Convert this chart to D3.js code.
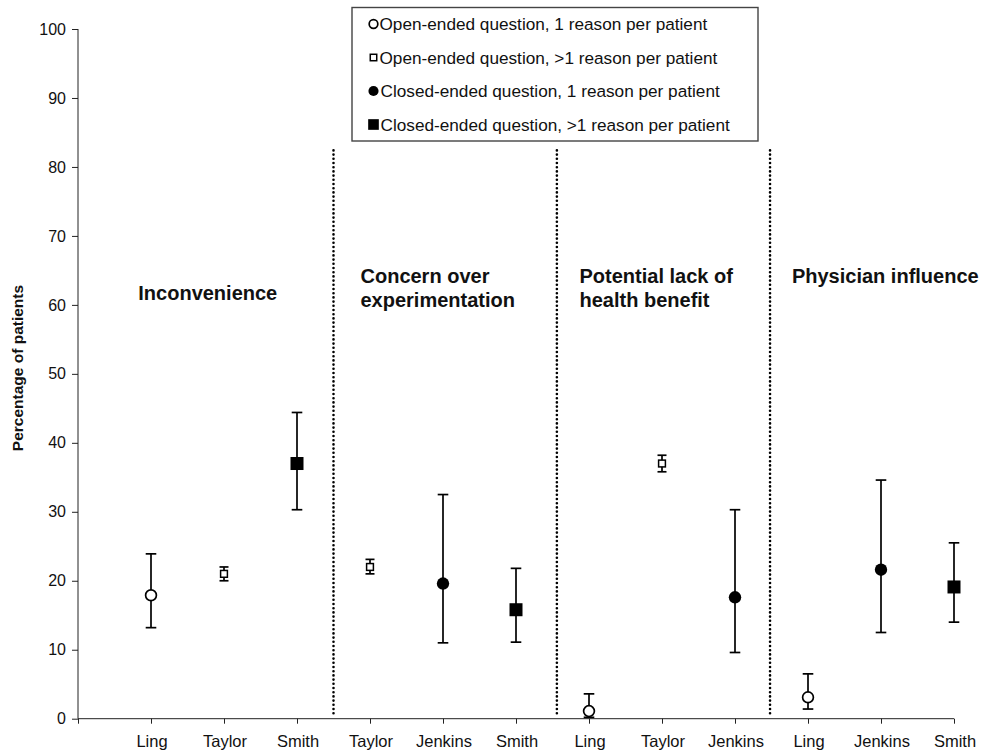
<!DOCTYPE html>
<html>
<head>
<meta charset="utf-8">
<script src="https://cdn.jsdelivr.net/npm/d3@7"></script>
<style>
  html, body { margin: 0; padding: 0; background: #fff; }
  svg { display: block; font-family: "Liberation Sans", Arial, sans-serif; }
</style>
</head>
<body>
<svg id="chart" width="984" height="756"></svg>
<script>
// ---- data ----
const categories = ["Ling","Taylor","Smith","Taylor","Jenkins","Smith","Ling","Taylor","Jenkins","Ling","Jenkins","Smith"];
const values = [17.9, 21.0, 37.0, 22.0, 19.6, 15.8, 1.1, 37.0, 17.6, 3.1, 21.6, 19.1];
const lowerCI = [13.2, 20.0, 30.3, 21.0, 11.0, 11.1, 0.2, 35.8, 9.6, 1.4, 12.5, 14.0];
const upperCI = [23.9, 22.0, 44.4, 23.1, 32.5, 21.8, 3.6, 38.2, 30.3, 6.5, 34.6, 25.5];
const markerTypes = ["openCircle","openSquare","filledSquare","openSquare","filledCircle","filledSquare","openCircle","openSquare","filledCircle","openCircle","filledCircle","filledSquare"];
const groupTitles = [["Inconvenience"], ["Concern over","experimentation"], ["Potential lack of","health benefit"], ["Physician influence"]];
const dividers = [3.5, 6.56, 9.48];
const yTicks = [0,10,20,30,40,50,60,70,80,90,100];
const legendLabels = [
  "Open-ended question, 1 reason per patient",
  "Open-ended question, >1 reason per patient",
  "Closed-ended question, 1 reason per patient",
  "Closed-ended question, >1 reason per patient"
];
const legendTypes = ["openCircle","openSquare","filledCircle","filledSquare"];

// ---- layout ----
const titlePos = [ {x:0.826, y:60.7}, {x:3.87, y:63.2}, {x:6.87, y:63.2}, {x:9.78, y:63.2} ];
const dividerTop = 82.4;

const svg = d3.select("#chart");
const x = d3.scaleLinear().domain([0, 12]).range([78, 954]);
const y = d3.scaleLinear().domain([0, 100]).range([718.7, 29]);

// y axis
const yAxis = svg.append("g").attr("transform", "translate(78,0)")
  .call(d3.axisLeft(y).tickValues(yTicks).tickSize(6).tickPadding(6).tickFormat(d3.format("d")));
yAxis.select(".domain").attr("stroke", "#222").attr("d", `M0,${y(100)}V${y(0)}`);
yAxis.selectAll(".tick line").attr("stroke", "#222");
yAxis.selectAll(".tick text").attr("font-size", 16).attr("fill", "#111")
  .attr("font-family", "Liberation Sans, Arial, sans-serif");

// x axis
const xAxis = svg.append("g").attr("transform", `translate(0,${y(0)})`)
  .call(d3.axisBottom(x).tickValues(d3.range(0, 13)).tickSize(5).tickFormat(""));
xAxis.select(".domain").attr("stroke", "#222").attr("d", `M${x(0)},0H${x(12)}`);
xAxis.selectAll(".tick line").attr("stroke", "#222");

// category labels
svg.append("g").selectAll("text").data(categories).join("text")
  .attr("x", (d, i) => x(i + 1) + 1)
  .attr("y", 747)
  .attr("text-anchor", "middle")
  .attr("font-size", 16.5)
  .attr("fill", "#111")
  .text(d => d);

// y title
svg.append("text")
  .attr("transform", `translate(23,368) rotate(-90)`)
  .attr("text-anchor", "middle")
  .attr("font-size", 15.5)
  .attr("font-weight", "bold")
  .attr("fill", "#111")
  .text("Percentage of patients");

// dividers (round dots)
svg.append("g").selectAll("line").data(dividers).join("line")
  .attr("x1", d => x(d)).attr("x2", d => x(d))
  .attr("y1", y(dividerTop)).attr("y2", y(0) - 3)
  .attr("stroke", "#000").attr("stroke-width", 2.6)
  .attr("stroke-linecap", "round")
  .attr("stroke-dasharray", "0,4.2");

// group titles
const tg = svg.append("g");
groupTitles.forEach((lines, gi) => {
  const t = tg.append("text")
    .attr("x", x(titlePos[gi].x))
    .attr("y", y(titlePos[gi].y))
    .attr("font-size", 20)
    .attr("font-weight", "bold")
    .attr("fill", "#111");
  lines.forEach((ln, li) => {
    t.append("tspan").attr("x", x(titlePos[gi].x)).attr("dy", li === 0 ? 0 : 23.7).text(ln);
  });
});

// marker drawing
function drawMarker(g, type, cx, cy, scale) {
  const s = scale || 1;
  if (type === "openCircle") {
    g.append("circle").attr("cx", cx).attr("cy", cy).attr("r", 5.4 * s)
      .attr("fill", "#fff").attr("stroke", "#000").attr("stroke-width", 1.7);
  } else if (type === "filledCircle") {
    g.append("circle").attr("cx", cx).attr("cy", cy).attr("r", 6.2 * s)
      .attr("fill", "#000");
  } else if (type === "openSquare") {
    const h = 3.4 * s;
    g.append("rect").attr("x", cx - h).attr("y", cy - h).attr("width", 2 * h).attr("height", 2 * h)
      .attr("fill", "#fff").attr("stroke", "#000").attr("stroke-width", 1.5);
  } else if (type === "filledSquare") {
    const h = 6.5 * s;
    g.append("rect").attr("x", cx - h).attr("y", cy - h).attr("width", 2 * h).attr("height", 2 * h)
      .attr("fill", "#000");
  }
}

// error bars + points
const pg = svg.append("g");
categories.forEach((c, i) => {
  const cx = x(i + 1);
  const capW = markerTypes[i] === "openSquare" ? 4.5 : 5.3;
  pg.append("line").attr("x1", cx).attr("x2", cx)
    .attr("y1", y(upperCI[i])).attr("y2", y(lowerCI[i]))
    .attr("stroke", "#000").attr("stroke-width", 1.7);
  [upperCI[i], lowerCI[i]].forEach(v => {
    pg.append("line").attr("x1", cx - capW).attr("x2", cx + capW)
      .attr("y1", y(v)).attr("y2", y(v))
      .attr("stroke", "#000").attr("stroke-width", 1.7);
  });
  drawMarker(pg, markerTypes[i], cx, y(values[i]));
});

// legend
const lg = svg.append("g");
lg.append("rect").attr("x", 352).attr("y", 7.5).attr("width", 406).attr("height", 133.5)
  .attr("fill", "#fff").attr("stroke", "#444").attr("stroke-width", 1.4);
legendLabels.forEach((lab, i) => {
  const cy = 24 + i * 33.5;
  const sc = legendTypes[i] === "openCircle" ? 0.8 : legendTypes[i] === "openSquare" ? 0.95 : 0.82;
  drawMarker(lg, legendTypes[i], 373.5, cy, sc);
  lg.append("text").attr("x", legendTypes[i].startsWith("filled") ? 380.5 : 379.5).attr("y", cy + 6)
    .attr("font-size", 17.2).attr("fill", "#111").text(lab);
});
</script>
</body>
</html>
